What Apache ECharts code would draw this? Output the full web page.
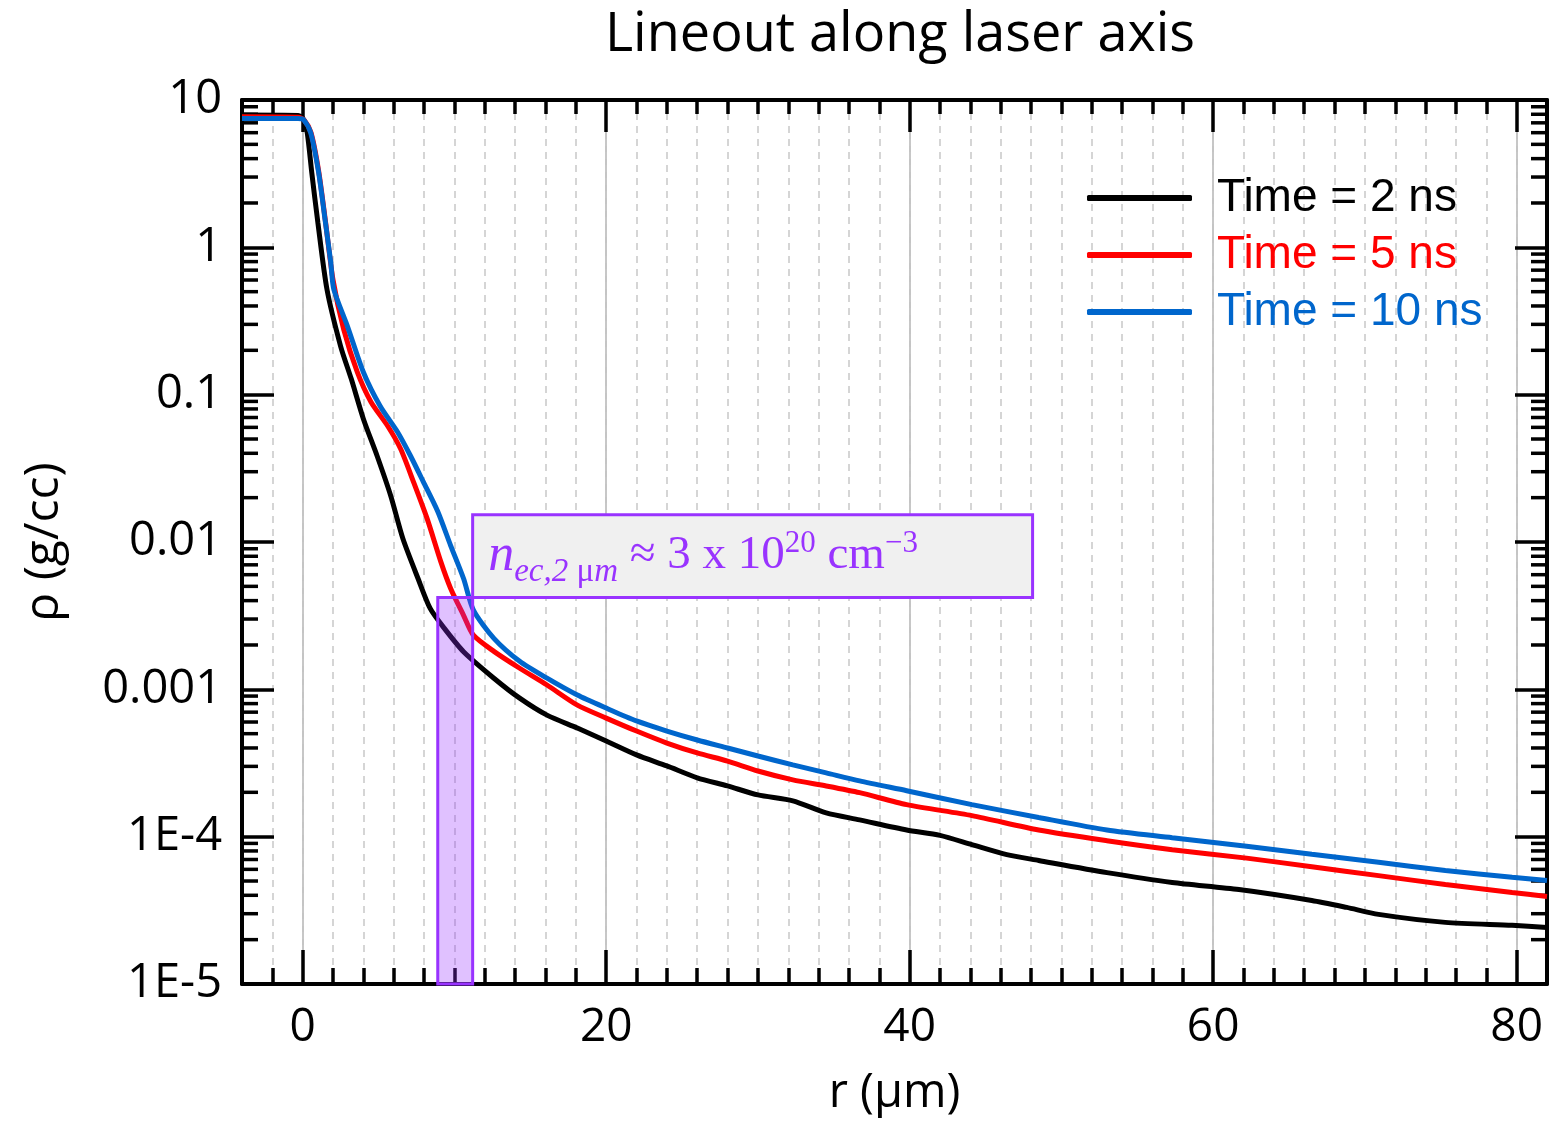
<!DOCTYPE html>
<html><head><meta charset="utf-8">
<script src="https://cdn.jsdelivr.net/npm/echarts@6/dist/echarts.min.js"></script>
<style>html,body{margin:0;padding:0;background:#fff}#c{width:1550px;height:1122px}</style>
</head><body><div id="c"></div>
<script>
// ---- data ----
const seriesNames = ['Time = 2 ns', 'Time = 5 ns', 'Time = 10 ns'];

const r2ns = [-4, -0.3, 0.05, 0.3, 0.6, 1, 1.6, 2.5, 3.2, 4, 4.9, 5.8, 6.6, 7.6, 8.4, 9.3, 10.6, 12.6, 14.3, 16.1, 18.1, 20, 22, 24, 26, 28, 30, 32.3, 34.5, 36.7, 39.8, 42, 44.1, 46.4, 48.5, 53, 57.3, 61.7, 66.5, 68.8, 70.9, 75.3, 79.7, 82];
const rho2ns = [7.9, 7.85, 7.4, 5.98, 3.2, 1.47, 0.518, 0.213, 0.128, 0.0684, 0.0385, 0.0206, 0.01055, 0.00565, 0.00354, 0.00262, 0.0018, 0.00119, 0.000871, 0.000668, 0.000546, 0.000446, 0.000359, 0.000302, 0.000251, 0.000221, 0.000192, 0.000175, 0.000145, 0.00013, 0.000111, 0.000102, 0.0000883, 0.0000755, 0.0000689, 0.000057, 0.0000489, 0.0000438, 0.0000369, 0.0000331, 0.0000297, 0.0000262, 0.000025, 0.0000242];

const r5ns = [-4, -0.3, 0.1, 0.55, 1.05, 1.5, 2, 2.7, 3.6, 4.5, 5.6, 6.45, 7.3, 8.2, 9.1, 9.75, 10.6, 11.25, 12.6, 14.3, 16.1, 18.1, 20, 22, 24, 26, 28, 30, 32.3, 34.5, 36.7, 39.8, 44.1, 48.5, 53, 57.3, 62.2, 66.5, 70.9, 75.3, 79.7, 82];
const rho5ns = [7.7, 7.65, 7.3, 6.0, 3.3, 1.5, 0.6, 0.278, 0.142, 0.0891, 0.0613, 0.0429, 0.0256, 0.0144, 0.00736, 0.00484, 0.00318, 0.00233, 0.00181, 0.00139, 0.00107, 0.000781, 0.000638, 0.000521, 0.000432, 0.00037, 0.000326, 0.000279, 0.000243, 0.000221, 0.000199, 0.000165, 0.000139, 0.000111, 0.0000939, 0.0000816, 0.0000715, 0.0000625, 0.0000544, 0.0000473, 0.0000418, 0.0000393];

const r10ns = [-4, -0.3, 0.07, 0.53, 1.05, 1.5, 1.85, 2.05, 2.95, 4, 5.1, 6.25, 7.1, 7.95, 8.9, 9.75, 10.6, 11.25, 12.6, 14.3, 16.1, 18.1, 20, 22, 24, 26, 28, 30, 32.3, 34.5, 36.7, 39.8, 44.1, 48.5, 53, 57.3, 62.2, 66.5, 70.9, 75.3, 79.7, 82];
const rho10ns = [7.5, 7.48, 7.33, 5.98, 3.21, 1.47, 0.789, 0.518, 0.291, 0.142, 0.0838, 0.0558, 0.0385, 0.0256, 0.0161, 0.00946, 0.00565, 0.00345, 0.00222, 0.00155, 0.00119, 0.000914, 0.000746, 0.00061, 0.000521, 0.000453, 0.0004, 0.000353, 0.000307, 0.000271, 0.000239, 0.000205, 0.000165, 0.000135, 0.000111, 0.0000984, 0.000086, 0.000076, 0.000067, 0.000059, 0.000053, 0.0000504];

const xMajorTicks = [0, 20, 40, 60, 80];
const yTickValues = [1e-5, 1e-4, 1e-3, 1e-2, 0.1, 1, 10];
const yTickLabels = ['1E-5', '1E-4', '0.001', '0.01', '0.1', '1', '10'];

// annotation (data units)
const bandR = [8.9, 11.2];
const bandRho = [1e-5, 0.0042];
const boxR = [11.2, 48.1];
const boxRho = [0.0042, 0.0153];

// ---- styles ----
const colors = ['#000000', '#ff0000', '#0066cc'];
const purple = '#9933ff';
const tickFont = 'Open Sans';

// minor log ticks (axis structure)
const yMinorTicks = [];
for (let k = -5; k < 1; k++) for (let m = 2; m <= 9; m++) yMinorTicks.push(m * Math.pow(10, k));

function yLabel(v) {
  const i = yTickValues.findIndex(t => Math.abs(Math.log10(t) - Math.log10(v)) < 1e-6);
  return i >= 0 ? yTickLabels[i] : '';
}

const chart = echarts.init(document.getElementById('c'), null, {renderer: 'canvas'});

const baseX = {type: 'value', min: -4, max: 82, z: 2, axisLine: {onZero: false, show: false}, axisLabel: {show: false}, splitLine: {show: false}, axisTick: {show: false}};
const tickStyle = {color: '#000', width: 3.5};
const serif = 'Liberation Serif';

const option = {
  backgroundColor: '#fff',
  animation: false,
  title: {
    text: 'Lineout along laser axis',
    left: 895, top: 4, textAlign: 'center',
    textStyle: {fontFamily: tickFont, fontSize: 54, fontWeight: 'normal', color: '#000'}
  },
  legend: {
    orient: 'vertical', left: 1087, top: 175, padding: 0, itemGap: 11,
    itemWidth: 105, itemHeight: 6, icon: 'roundRect',
    textStyle: {fontFamily: 'Liberation Sans', fontSize: 46, lineHeight: 46, padding: [0, 0, 0, 20]},
    data: seriesNames.map((n, i) => ({name: n, textStyle: {color: colors[i]}}))
  },
  grid: {left: 242, right: 3, top: 100, bottom: 135, containLabel: false},
  xAxis: [
    Object.assign({}, baseX, {
      position: 'bottom', interval: 2,
      axisLine: {onZero: false, show: true, lineStyle: {color: '#000', width: 4}},
      axisTick: {show: true, inside: true, length: 16, lineStyle: tickStyle},
      splitLine: {show: true, lineStyle: {color: '#c8c8c8', width: 1.5, type: [7, 6]}},
      name: 'r (μm)', nameLocation: 'middle', nameGap: 86,
      nameTextStyle: {fontFamily: tickFont, fontSize: 47, color: '#000'}
    }),
    Object.assign({}, baseX, {
      position: 'bottom',
      axisTick: {show: true, inside: true, length: 34, lineStyle: tickStyle, customValues: xMajorTicks},
      axisLabel: {show: true, customValues: xMajorTicks, margin: 21, fontFamily: tickFont, fontSize: 46, color: '#000'}
    }),
    Object.assign({}, baseX, {
      position: 'top', interval: 2,
      axisLine: {onZero: false, show: true, lineStyle: {color: '#000', width: 4}},
      axisTick: {show: true, inside: true, length: 14, lineStyle: tickStyle}
    }),
    Object.assign({}, baseX, {
      position: 'top',
      axisTick: {show: true, inside: true, length: 32, lineStyle: tickStyle, customValues: xMajorTicks}
    })
  ],
  yAxis: [
    {
      type: 'log', logBase: 10, min: 1e-5, max: 10, position: 'left', z: 2,
      axisLine: {onZero: false, show: true, lineStyle: {color: '#000', width: 4}},
      axisTick: {show: true, inside: true, length: 32, lineStyle: tickStyle},
      axisLabel: {margin: 20, fontFamily: tickFont, fontSize: 47, color: '#000', formatter: yLabel},
      splitLine: {show: false}, minorTick: {show: false},
      name: 'ρ (g/cc)', nameLocation: 'middle', nameRotate: 90, nameGap: 174,
      nameTextStyle: {fontFamily: tickFont, fontSize: 48, color: '#000'}
    },
    {
      type: 'log', logBase: 10, min: 1e-5, max: 10, position: 'right', z: 2,
      axisLine: {onZero: false, show: true, lineStyle: {color: '#000', width: 4}},
      axisTick: {show: true, inside: true, length: 32, lineStyle: tickStyle},
      axisLabel: {show: false}, splitLine: {show: false}
    }
  ],
  series: [
    // solid major vertical grid lines
    {
      name: 'grid-major', type: 'line', z: 1, silent: true, data: [[0, 1]], showSymbol: false,
      lineStyle: {opacity: 0},
      markLine: {silent: true, z: 1, symbol: 'none', label: {show: false},
        lineStyle: {color: '#c4c4c4', type: 'solid', width: 2},
        data: xMajorTicks.map(v => ({xAxis: v}))}
    },
    // minor log ticks on left and right
    {
      name: 'minor-ticks', type: 'custom', z: 2, silent: true, clip: false,
      data: yMinorTicks.map(v => [0, v]),
      encode: {x: 0, y: 1},
      renderItem: (params, api) => {
        const p = api.coord([0, api.value(1)]);
        const cs = params.coordSys;
        return {type: 'group', children: [
          {type: 'line', shape: {x1: cs.x, y1: p[1], x2: cs.x + 16, y2: p[1]}, style: {stroke: '#000', lineWidth: 3.5}},
          {type: 'line', shape: {x1: cs.x + cs.width, y1: p[1], x2: cs.x + cs.width - 16, y2: p[1]}, style: {stroke: '#000', lineWidth: 3.5}}
        ]};
      }
    },
    ...[[r2ns, rho2ns], [r5ns, rho5ns], [r10ns, rho10ns]].map((d, i) => ({
      name: seriesNames[i], type: 'line', z: 3 + i, showSymbol: false,
      smooth: 0.25,
      color: colors[i],
      lineStyle: {color: colors[i], width: 5},
      data: d[0].map((x, j) => [x, d[1][j]])
    })),
    // annotation: shaded band and label box
    {
      name: 'annot', type: 'line', z: 10, silent: true, data: [[20, 1e-3]], showSymbol: false,
      lineStyle: {opacity: 0},
      markArea: {
        silent: true, z: 10,
        data: [
          [{xAxis: bandR[0], yAxis: bandRho[0], itemStyle: {color: 'rgba(153,51,255,0.3)', borderColor: purple, borderWidth: 3}},
           {xAxis: bandR[1], yAxis: bandRho[1]}],
          [{xAxis: boxR[0], yAxis: boxRho[0], itemStyle: {color: '#f0f0f0', borderColor: purple, borderWidth: 3},
            label: {
              show: true, position: 'insideLeft', distance: 17,
              color: purple, fontFamily: serif, fontSize: 46,
              formatter: '{n|n}{sub|ec,2 }{subu|μ}{sub|m}{m| ≈ 3 x 10}{sup|20}{m| cm}{sup|−3}',
              rich: {
                n: {fontFamily: serif, fontStyle: 'italic', fontSize: 52, color: purple},
                sub: {fontFamily: serif, fontStyle: 'italic', fontSize: 33, color: purple, padding: [32, 0, 0, 0]},
                subu: {fontFamily: serif, fontSize: 33, color: purple, padding: [32, 0, 0, 0]},
                m: {fontFamily: serif, fontSize: 47, color: purple},
                sup: {fontFamily: serif, fontSize: 31, color: purple, padding: [0, 0, 24, 0]}
              }
            }},
           {xAxis: boxR[1], yAxis: boxRho[1]}]
        ]
      }
    }
  ]
};
chart.setOption(option);
</script>
</body></html>
